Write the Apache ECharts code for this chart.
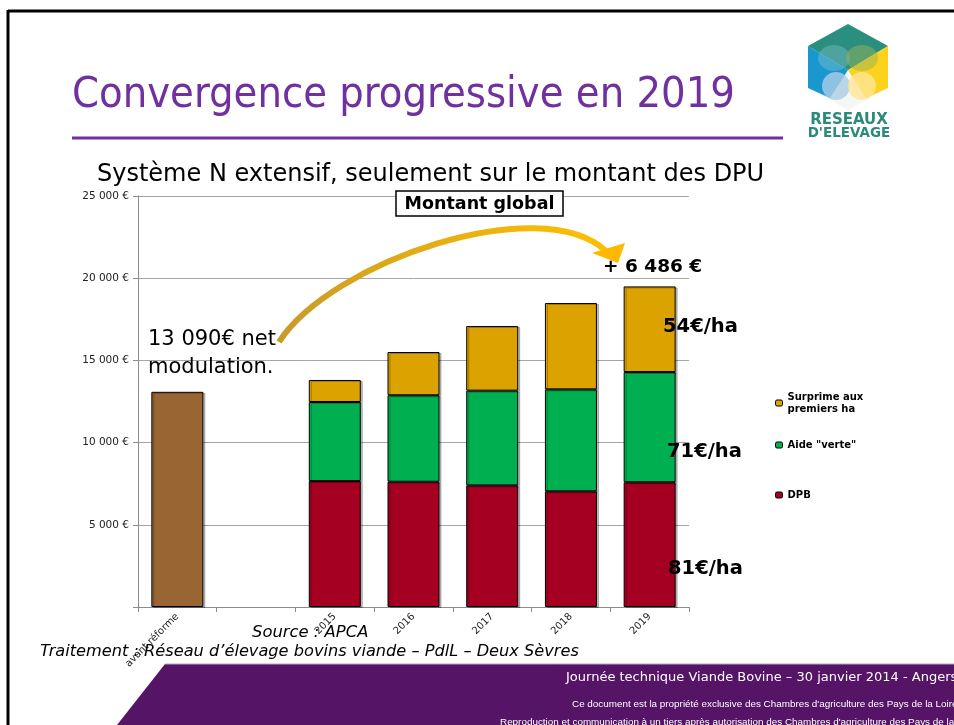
<!DOCTYPE html>
<html>
<head>
<meta charset="utf-8">
<title>Convergence progressive en 2019</title>
<script src="https://cdn.jsdelivr.net/npm/echarts@6/dist/echarts.min.js"></script>
<style>
  html, body { margin: 0; padding: 0; background: #fff; }
  #chart { width: 954px; height: 725px; }
</style>
</head>
<body>
<div id="chart"></div>
<script>
  // données
  var categories = ['avant réforme', '', '2015', '2016', '2017', '2018', '2019'];
  var avantReforme = [13090, '-', '-', '-', '-', '-', '-'];
  var dpb = ['-', '-', 7660, 7620, 7400, 7040, 7590];
  var aideVerte = ['-', '-', 4810, 5260, 5760, 6200, 6700];
  var surprime = ['-', '-', 1340, 2630, 3930, 5250, 5210];
  var yTicks = [0, 5000, 10000, 15000, 20000, 25000];

  var font = 'DejaVu Sans';

  // 25000 -> "25 000 €", pas de libellé pour 0
  function euro(v) {
    if (v === 0) return '';
    return String(v).replace(/\B(?=(\d{3})+(?!\d))/g, ' ') + ' €';
  }

  function legendAt(name, top) {
    return {
      data: [name],
      left: 770,
      top: top,
      orient: 'vertical',
      itemWidth: 7,
      itemHeight: 6,
      itemStyle: { borderColor: '#000', borderWidth: 1 },
      selectedMode: false,
      textStyle: { fontFamily: font, fontWeight: 'bold', fontSize: 10, color: '#000', lineHeight: 12 }
    };
  }

  function barSerie(name, data, color) {
    return {
      name: name,
      type: 'bar',
      stack: 'total',
      barWidth: 52,
      data: data,
      itemStyle: {
        color: color,
        borderColor: '#000',
        borderWidth: 1,
        shadowColor: 'rgba(0,0,0,0.25)',
        shadowOffsetX: 2,
        shadowOffsetY: 1
      }
    };
  }

  var chart = echarts.init(document.getElementById('chart'));
  var option = {
    animation: false,
    backgroundColor: '#fff',
    grid: { left: 138, right: 265, top: 196, bottom: 118, containLabel: false },
    legend: [
      legendAt('Surprime aux\npremiers ha', 386),
      legendAt('Aide "verte"', 434),
      legendAt('DPB', 484)
    ],
    xAxis: {
      type: 'category',
      data: categories,
      axisLine: { lineStyle: { color: '#8c8c8c' } },
      axisTick: { show: true, length: 5, lineStyle: { color: '#8c8c8c' } },
      axisLabel: { interval: 0, rotate: 45, fontFamily: font, fontSize: 10, color: '#222', margin: 8 }
    },
    yAxis: {
      type: 'value',
      min: yTicks[0],
      max: yTicks[yTicks.length - 1],
      interval: yTicks[1] - yTicks[0],
      axisLine: { show: true, lineStyle: { color: '#8c8c8c' } },
      axisTick: { show: true, length: 5, lineStyle: { color: '#8c8c8c' } },
      splitLine: { show: true, lineStyle: { color: '#a6a6a6' } },
      axisLabel: { formatter: euro, fontFamily: font, fontSize: 10.5, color: '#222', margin: 9 }
    },
    series: [
      barSerie('avant réforme', avantReforme, '#996633'),
      barSerie('DPB', dpb, '#a50021'),
      barSerie('Aide "verte"', aideVerte, '#00b050'),
      barSerie('Surprime aux\npremiers ha', surprime, '#dba200')
    ],
    graphic: [
      // cadre de la diapositive
      { type: 'line', shape: { x1: 8, y1: 11, x2: 954, y2: 11 }, style: { stroke: '#000', lineWidth: 3 } },
      { type: 'line', shape: { x1: 8, y1: 10, x2: 8, y2: 725 }, style: { stroke: '#000', lineWidth: 3 } },
      // titre
      { type: 'text', x: 72, y: 96, style: { text: 'Convergence progressive en 2019', fontFamily: 'DejaVu Sans Condensed', fontSize: 43, fill: '#7030a0', verticalAlign: 'middle' } },
      { type: 'line', shape: { x1: 72, y1: 138, x2: 783, y2: 138 }, style: { stroke: '#7030a0', lineWidth: 3 } },
      // logo
      { type: 'group', children: [
        { type: 'polygon', shape: { points: [[808, 46], [848, 24], [888, 46], [888, 88], [848, 110], [808, 88]] }, style: { fill: '#f4f7f4' } },
        { type: 'polygon', shape: { points: [[808, 46], [848, 24], [888, 46], [848, 70]] }, style: { fill: '#2a8f7f' } },
        { type: 'polygon', shape: { points: [[808, 46], [848, 70], [830, 98], [808, 88]] }, style: { fill: '#1b97cf' } },
        { type: 'polygon', shape: { points: [[888, 46], [888, 88], [866, 98], [848, 70]] }, style: { fill: '#fdd21c' } },
        { type: 'ellipse', shape: { cx: 834, cy: 58, rx: 16, ry: 13 }, style: { fill: 'rgba(120,190,200,0.45)' } },
        { type: 'ellipse', shape: { cx: 862, cy: 58, rx: 16, ry: 13 }, style: { fill: 'rgba(150,180,90,0.5)' } },
        { type: 'ellipse', shape: { cx: 836, cy: 86, rx: 14, ry: 14 }, style: { fill: 'rgba(170,205,230,0.8)' } },
        { type: 'ellipse', shape: { cx: 862, cy: 86, rx: 14, ry: 14 }, style: { fill: 'rgba(255,230,150,0.8)' } },
        { type: 'text', x: 849, y: 120, style: { text: 'RESEAUX', fontFamily: font, fontWeight: 'bold', fontSize: 15, fill: '#2a8a7c', align: 'center', verticalAlign: 'middle' } },
        { type: 'text', x: 849, y: 133, style: { text: "D'ELEVAGE", fontFamily: font, fontWeight: 'bold', fontSize: 13.5, fill: '#2a8a7c', align: 'center', verticalAlign: 'middle' } }
      ] },
      // sous-titre
      { type: 'text', x: 97, y: 175, style: { text: 'Système N extensif, seulement sur le montant des DPU', fontFamily: font, fontSize: 24, fill: '#000', verticalAlign: 'middle' } },
      // encadré
      { type: 'rect', shape: { x: 396, y: 191, width: 167, height: 25 }, style: { fill: '#fff', stroke: '#000', lineWidth: 1.5 }, z: 10 },
      { type: 'text', x: 479.5, y: 204, z: 11, style: { text: 'Montant global', fontFamily: font, fontWeight: 'bold', fontSize: 17.5, fill: '#000', align: 'center', verticalAlign: 'middle' } },
      // flèche
      { type: 'bezierCurve', z: 10, shape: { x1: 279, y1: 342, cpx1: 330, cpy1: 262, cpx2: 540, cpy2: 190, x2: 606, y2: 251 },
        style: { fill: null, lineWidth: 6, stroke: { type: 'linear', x: 0, y: 1, x2: 1, y2: 0, colorStops: [{ offset: 0, color: '#c89a2a' }, { offset: 1, color: '#ffc000' }] } } },
      { type: 'polygon', z: 10, shape: { points: [[592, 253], [625, 243], [618, 263]] }, style: { fill: '#ffb800' } },
      // annotations
      { type: 'text', x: 148, y: 340, z: 11, style: { text: '13 090€ net', fontFamily: font, fontSize: 21, fill: '#000', verticalAlign: 'middle' } },
      { type: 'text', x: 148, y: 368, z: 11, style: { text: 'modulation.', fontFamily: font, fontSize: 21, fill: '#000', verticalAlign: 'middle' } },
      { type: 'text', x: 603, y: 267, z: 11, style: { text: '+ 6 486 €', fontFamily: font, fontWeight: 'bold', fontSize: 18.5, fill: '#000', verticalAlign: 'middle' } },
      { type: 'text', x: 663, y: 327, z: 11, style: { text: '54€/ha', fontFamily: font, fontWeight: 'bold', fontSize: 19.5, fill: '#000', verticalAlign: 'middle' } },
      { type: 'text', x: 667, y: 452, z: 11, style: { text: '71€/ha', fontFamily: font, fontWeight: 'bold', fontSize: 19.5, fill: '#000', verticalAlign: 'middle' } },
      { type: 'text', x: 668, y: 569, z: 11, style: { text: '81€/ha', fontFamily: font, fontWeight: 'bold', fontSize: 19.5, fill: '#000', verticalAlign: 'middle' } },
      // sources
      { type: 'text', x: 252, y: 633, z: 11, style: { text: 'Source : APCA', fontFamily: font, fontStyle: 'italic', fontSize: 16.4, fill: '#000', verticalAlign: 'middle' } },
      { type: 'text', x: 40, y: 652, z: 11, style: { text: 'Traitement : Réseau d’élevage bovins viande – PdlL – Deux Sèvres', fontFamily: font, fontStyle: 'italic', fontSize: 16.2, fill: '#000', verticalAlign: 'middle' } },
      // bandeau bas
      { type: 'polygon', z: 5, shape: { points: [[117, 725], [165, 664], [954, 664], [954, 725]] }, style: { fill: '#551466' } },
      { type: 'line', z: 5, shape: { x1: 165, y1: 664, x2: 954, y2: 664 }, style: { stroke: '#b9a3c4', lineWidth: 1 } },
      { type: 'text', x: 566, y: 678, z: 6, style: { text: 'Journée technique Viande Bovine – 30 janvier 2014 - Angers', fontFamily: font, fontSize: 13, fill: '#fff', verticalAlign: 'middle' } },
      { type: 'text', x: 572, y: 704, z: 6, style: { text: 'Ce document est la propriété exclusive des Chambres d\'agriculture des Pays de la Loire', fontFamily: 'Liberation Sans', fontSize: 9.9, fill: '#fff', verticalAlign: 'middle' } },
      { type: 'text', x: 500, y: 722, z: 6, style: { text: 'Reproduction et communication à un tiers après autorisation des Chambres d\'agriculture des Pays de la Loire', fontFamily: 'Liberation Sans', fontSize: 9.9, fill: '#fff', verticalAlign: 'middle' } }
    ]
  };
  chart.setOption(option);
</script>
</body>
</html>
